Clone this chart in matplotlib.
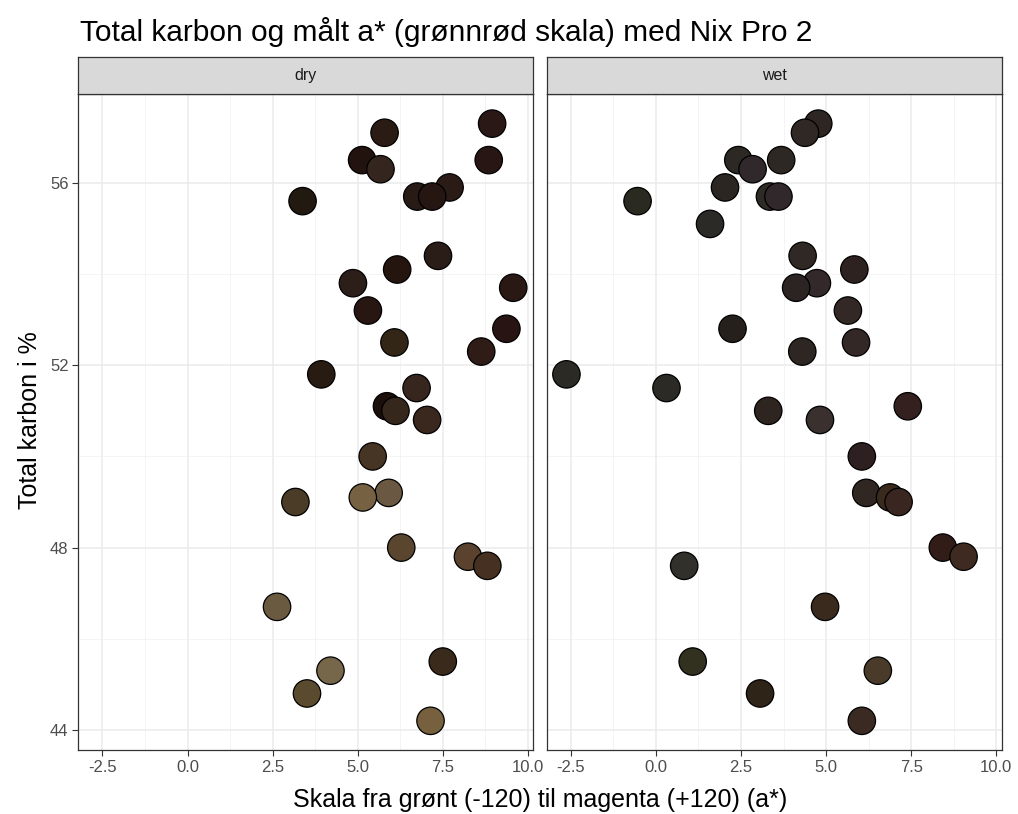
import numpy as np
import matplotlib
matplotlib.use("Agg")
import matplotlib.pyplot as plt

plt.rcParams['font.family'] = ['Liberation Sans', 'DejaVu Sans']

# total carbon (%) per sample, shared by both panels
carbon = [57.3, 57.1, 56.5, 56.5, 56.3, 55.9, 55.7, 55.7, 55.6, 55.1,
          54.4, 54.1, 53.8, 53.7, 53.2, 52.8, 52.5, 52.3, 51.8, 51.5,
          51.1, 51.0, 50.8, 50.0, 49.2, 49.1, 49.0, 48.0, 47.8, 47.6,
          46.7, 45.5, 45.3, 44.8, 44.2]

# a* measured on dry samples (one sample missing)
a_dry = [8.95, 5.79, 5.13, 8.85, 5.67, 7.70, 6.75, 7.19, 3.38, np.nan,
         7.36, 6.16, 4.86, 9.57, 5.30, 9.37, 6.08, 8.63, 3.93, 6.73,
         5.86, 6.11, 7.04, 5.44, 5.91, 5.15, 3.17, 6.28, 8.24, 8.81,
         2.63, 7.50, 4.20, 3.51, 7.14]

# a* measured on wet samples
a_wet = [4.77, 4.38, 2.42, 3.68, 2.84, 2.03, 3.35, 3.60, -0.54, 1.59,
         4.31, 5.83, 4.73, 4.12, 5.64, 2.25, 5.88, 4.30, -2.63, 0.31,
         7.40, 3.30, 4.82, 6.05, 6.18, 6.88, 7.13, 8.43, 9.04, 0.83,
         4.97, 1.08, 6.52, 3.06, 6.05]

# measured sample colour (fill)
col_dry = ['#2a1816', '#2a1c14', '#22130e', '#281614', '#34261f', '#2a1b17',
           '#281a15', '#261612', '#221a10', '#2a1e16', '#2a1c16', '#24160f',
           '#2c1f1a', '#2a1814', '#281612', '#281412', '#342616', '#301c16',
           '#281c12', '#36261e', '#1c0f0b', '#36271d', '#3a271e', '#463424',
           '#6a5842', '#766242', '#4a3c26', '#5a462e', '#5a422e', '#463022',
           '#6a5a40', '#3a2a1c', '#76664a', '#5a4a2e', '#76603e']
col_wet = ['#2e2622', '#302824', '#2c2824', '#2e2824', '#30282a', '#2c2622',
           '#2e2a26', '#30282a', '#2a2a20', '#2c2a26', '#302824', '#2e2220',
           '#34292a', '#2c2422', '#332826', '#26201c', '#342826', '#2e2622',
           '#2c2a24', '#2c2a24', '#34201e', '#2e2420', '#3a302e', '#2e2020',
           '#302622', '#3a2a1e', '#3a2620', '#321c18', '#3e2a20', '#32302a',
           '#3a2a1e', '#32301e', '#4a3a2a', '#2e2418', '#3a2a22']

panels = ['dry', 'wet']
a_values = [a_dry, a_wet]
colours = [col_dry, col_wet]

W, H = 1018, 814
fig = plt.figure(figsize=(W / 100, H / 100), dpi=100)

ax_left = [78.3, 546.7]
ax_w = 455.0
ax_top, ax_bot = 94.0, 750.0
strip_top = 57.0

xlim = (-3.21, 10.16)
ylim = (43.56, 57.95)
xmaj = np.arange(-2.5, 10.01, 2.5)
xmin = xmaj[:-1] + 1.25
ymaj = [44, 48, 52, 56]
ymin = [46, 50, 54]
dark = '#333333'

for i, name in enumerate(panels):
    x0 = ax_left[i]
    ax = fig.add_axes([x0 / W, (H - ax_bot) / H, ax_w / W, (ax_bot - ax_top) / H])
    ax.set_xlim(*xlim)
    ax.set_ylim(*ylim)
    for v in xmin:
        ax.axvline(v, color='#f2f2f2', lw=0.6, zorder=0)
    for v in ymin:
        ax.axhline(v, color='#f2f2f2', lw=0.6, zorder=0)
    for v in xmaj:
        ax.axvline(v, color='#ebebeb', lw=1.1, zorder=0)
    for v in ymaj:
        ax.axhline(v, color='#ebebeb', lw=1.1, zorder=0)
    ax.scatter(a_values[i], carbon, s=390, c=colours[i], edgecolors='black',
               linewidths=0.9, zorder=3)
    ax.set_xticks(xmaj)
    ax.set_xticklabels([f'{v:.1f}' for v in xmaj])
    ax.set_yticks(ymaj)
    ax.tick_params(axis='both', length=4, width=0.8, color=dark,
                   labelsize=12, labelcolor='#4d4d4d', pad=3)
    if i == 1:
        ax.tick_params(axis='y', left=False, labelleft=False)
    for sp in ax.spines.values():
        sp.set_color(dark)
        sp.set_linewidth(0.9)

    st = fig.add_axes([x0 / W, (H - ax_top) / H, ax_w / W, (ax_top - strip_top) / H])
    st.set_facecolor('#d9d9d9')
    st.set_xticks([])
    st.set_yticks([])
    for sp in st.spines.values():
        sp.set_color(dark)
        sp.set_linewidth(0.9)
    st.text(0.5, 0.5, name, ha='center', va='center', fontsize=11.5,
            color='#1a1a1a', transform=st.transAxes)

fig.text(80 / W, 1 - 32 / H, 'Total karbon og målt a* (grønnrød skala) med Nix Pro 2',
         ha='left', va='center', fontsize=21.5)
fig.text(540 / W, 1 - 800 / H, 'Skala fra grønt (-120) til magenta (+120) (a*)',
         ha='center', va='center', fontsize=18)
fig.text(30 / W, 1 - 420 / H, 'Total karbon i %', rotation=90,
         ha='center', va='center', fontsize=18)

fig.savefig('out.png', dpi=100)
